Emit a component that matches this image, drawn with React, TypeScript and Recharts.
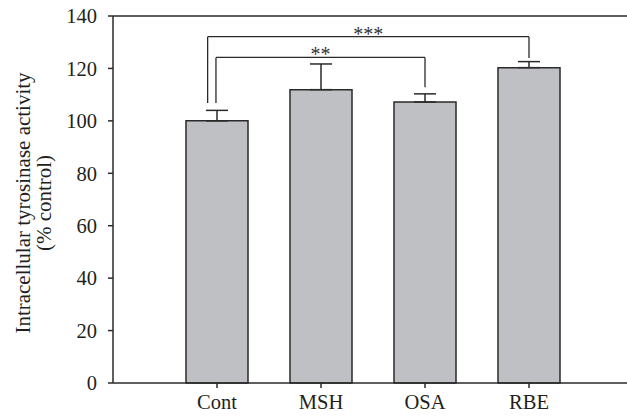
import { Bar, BarChart, ErrorBar, Label, ReferenceLine, XAxis, YAxis } from "recharts";

const categories = ["Cont", "MSH", "OSA", "RBE"];
const activity = [100, 111.9, 107.2, 120.3];
const sem = [4, 9.8, 3.1, 2.3];
const yTicks = [0, 20, 40, 60, 80, 100, 120, 140];

// significance brackets, in axis units (x = category slot, y = % control)
const brackets = [
  { label: "***", x1: 0.91, x2: 4, y: 132.1, y1: 106.8, y2: 124 },
  { label: "**", x1: 0.99, x2: 3, y: 124.2, y1: 106.8, y2: 112.8 },
];

const data = categories.map((name, i) => ({
  name,
  pos: i + 1,
  value: activity[i],
  err: [0, sem[i]],
}));

const ink = "#2a2a2a";
const font = "'Liberation Serif', 'Times New Roman', serif";

function YTitle() {
  const cy = 203;
  const style = { fontFamily: font, fontSize: 21, fill: "#231f20" };
  return (
    <g>
      <text transform={`translate(30, ${cy}) rotate(-90)`} textAnchor="middle" style={style}>
        Intracellular tyrosinase activity
      </text>
      <text transform={`translate(51, ${cy}) rotate(-90)`} textAnchor="middle" style={style}>
        (% control)
      </text>
    </g>
  );
}

export default function App() {
  return (
    <div style={{ position: "absolute", left: 0, top: 0, width: 627, height: 417, overflow: "hidden", background: "#fff" }}>
      <BarChart width={640} height={417} data={data} margin={{ top: 16, right: 7, left: 0, bottom: 0 }}>
        <XAxis
          type="number"
          dataKey="pos"
          domain={[0, 5]}
          ticks={[1, 2, 3, 4]}
          tickFormatter={(v: number) => categories[v - 1] ?? ""}
          height={34}
          tickSize={5}
          tickMargin={6}
          axisLine={{ stroke: ink, strokeWidth: 1.5 }}
          tickLine={{ stroke: ink, strokeWidth: 1.5 }}
          tick={{ fill: "#231f20", fontSize: 20.5, fontFamily: font }}
        />
        <YAxis
          type="number"
          domain={[0, 140]}
          ticks={yTicks}
          width={113}
          tickSize={5}
          tickMargin={11}
          axisLine={{ stroke: ink, strokeWidth: 1.5 }}
          tickLine={{ stroke: ink, strokeWidth: 1.5 }}
          tick={{ fill: "#231f20", fontSize: 20.5, fontFamily: font }}
        >
          <Label content={YTitle} />
        </YAxis>
        <ReferenceLine y={140} stroke={ink} strokeWidth={1.5} />
        <Bar dataKey="value" barSize={62} fill="#bfc0c3" stroke={ink} strokeWidth={1.5} isAnimationActive={false}>
          <ErrorBar dataKey="err" width={11} stroke={ink} strokeWidth={1.5} />
        </Bar>
        {brackets.map((b) => [
          <ReferenceLine
            key={b.label + "l"}
            segment={[{ x: b.x1, y: b.y1 }, { x: b.x1, y: b.y }]}
            stroke={ink}
            strokeWidth={1.3}
          />,
          <ReferenceLine
            key={b.label + "h"}
            segment={[{ x: b.x1, y: b.y }, { x: b.x2, y: b.y }]}
            stroke={ink}
            strokeWidth={1.3}
            label={{ value: b.label, position: "top", offset: -4, fontSize: 20, fill: "#333", fontFamily: font }}
          />,
          <ReferenceLine
            key={b.label + "r"}
            segment={[{ x: b.x2, y: b.y }, { x: b.x2, y: b.y2 }]}
            stroke={ink}
            strokeWidth={1.3}
          />,
        ])}
      </BarChart>
    </div>
  );
}
